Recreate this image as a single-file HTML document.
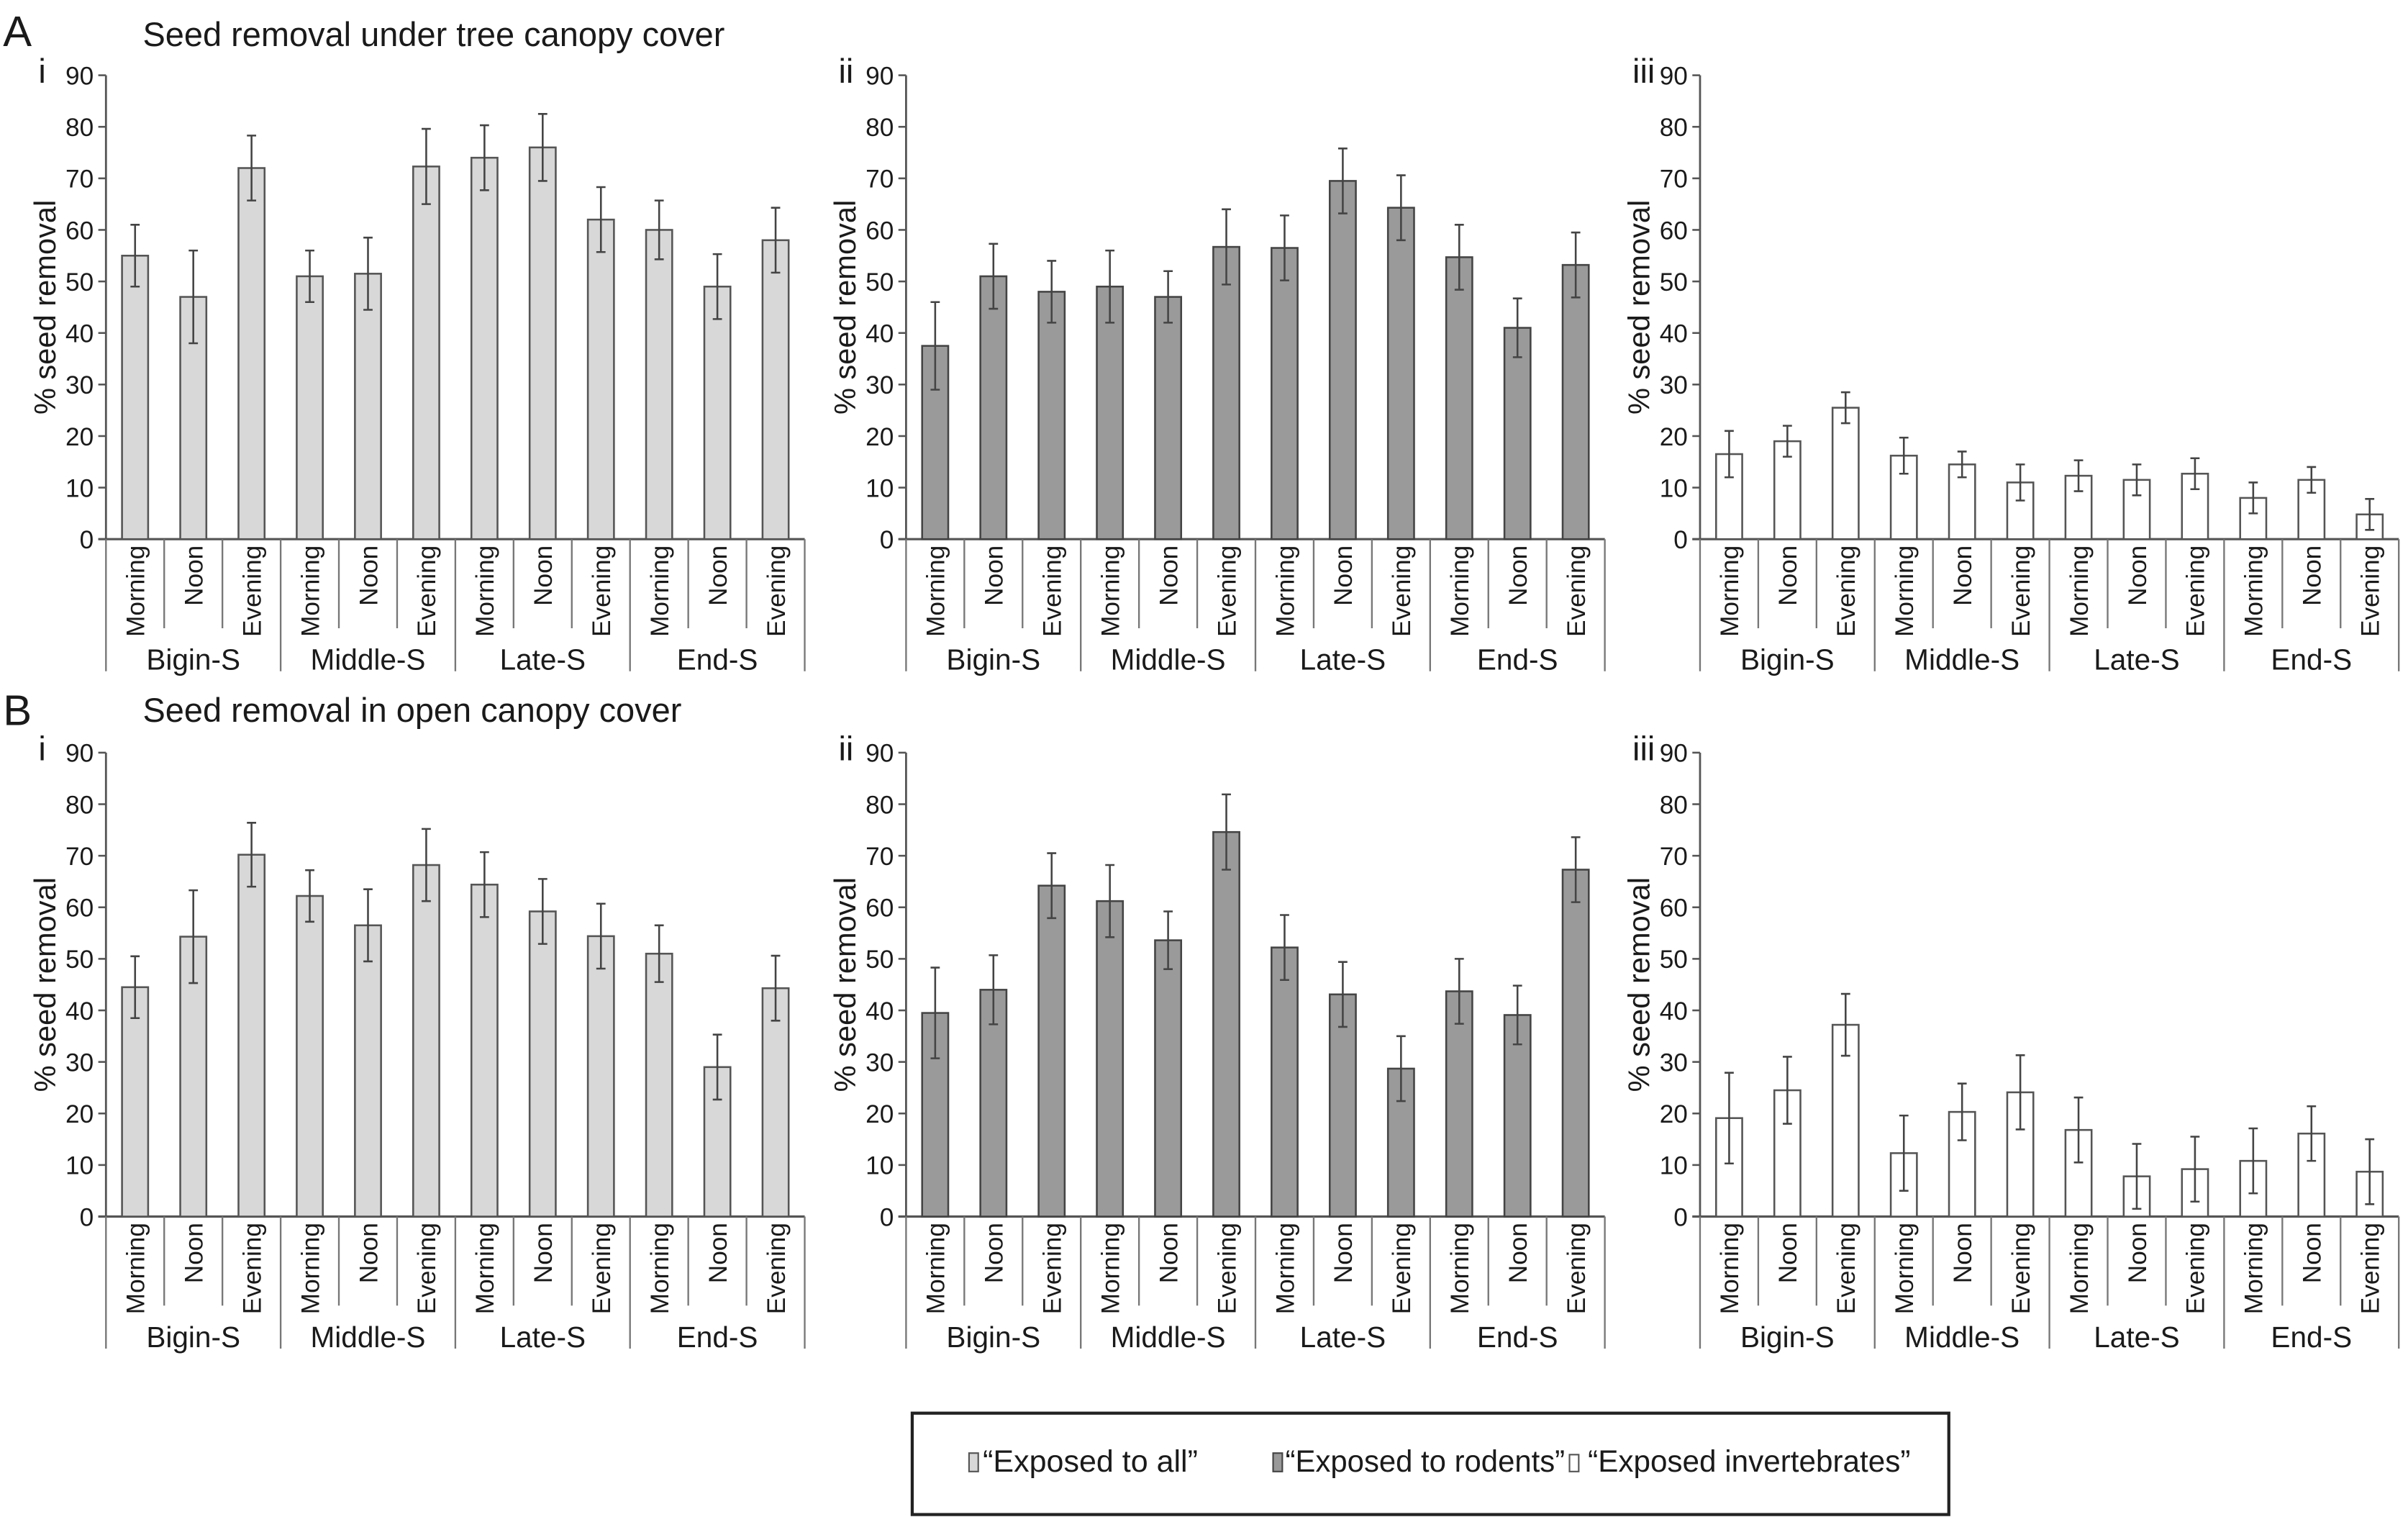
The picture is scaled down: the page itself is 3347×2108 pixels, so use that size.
<!DOCTYPE html>
<html><head><meta charset="utf-8"><style>
html,body{margin:0;padding:0;background:#fff}
svg{display:block}
text{font-family:"Liberation Sans",Arial,sans-serif;fill:#1a1a1a}
</style></head><body>
<svg id="fig" width="3347" height="2108" viewBox="0 0 1568 987.6" preserveAspectRatio="none" xmlns="http://www.w3.org/2000/svg">
<text x="2" y="30" font-size="28">A</text>
<text x="93" y="30" font-size="22">Seed removal under tree canopy cover</text>
<text x="2" y="472" font-size="28">B</text>
<text x="93" y="470" font-size="22">Seed removal in open canopy cover</text>
<g>
<rect x="594" y="920" width="675" height="66" fill="#fff" stroke="#222" stroke-width="2"/>
<rect x="631" y="946" width="6" height="12" fill="#d8d8d8" stroke="#555" stroke-width="1"/>
<text x="640" y="958" font-size="20" textLength="140" lengthAdjust="spacingAndGlyphs">“Exposed to all”</text>
<rect x="829" y="946" width="6" height="12" fill="#999" stroke="#444" stroke-width="1"/>
<text x="837" y="958" font-size="20" textLength="182" lengthAdjust="spacingAndGlyphs">“Exposed to rodents”</text>
<rect x="1022" y="947" width="6" height="11" fill="#fff" stroke="#555" stroke-width="1"/>
<text x="1034" y="958" font-size="20" textLength="210" lengthAdjust="spacingAndGlyphs">“Exposed invertebrates”</text>
</g>
<g id="charts"></g>
</svg>
<script>
const times = ["Morning","Noon","Evening"];
const seasons = ["Bigin-S","Middle-S","Late-S","End-S"];
const yTicks = [0,10,20,30,40,50,60,70,80,90];
const aAllMean = [55,47,72,51,51.5,72.3,74,76,62,60,49,58];
const aAllErr = [6,9,6.3,5,7,7.3,6.3,6.5,6.3,5.7,6.3,6.3];
const aRodMean = [37.5,51,48,49,47,56.7,56.5,69.5,64.3,54.7,41,53.2];
const aRodErr = [8.5,6.3,6,7,5,7.3,6.3,6.3,6.3,6.3,5.7,6.3];
const aInvMean = [16.5,19,25.5,16.2,14.5,11,12.3,11.5,12.7,8,11.5,4.8];
const aInvErr = [4.5,3,3,3.5,2.5,3.5,3,3,3,3,2.5,3];
const bAllMean = [44.5,54.3,70.2,62.2,56.5,68.2,64.4,59.2,54.4,51,29,44.3];
const bAllErr = [6,9,6.2,5,7,7,6.3,6.3,6.3,5.5,6.3,6.3];
const bRodMean = [39.5,44,64.2,61.2,53.6,74.6,52.2,43.1,28.7,43.7,39.1,67.3];
const bRodErr = [8.8,6.7,6.3,7,5.6,7.3,6.3,6.3,6.3,6.3,5.7,6.3];
const bInvMean = [19.1,24.5,37.2,12.3,20.3,24.1,16.8,7.8,9.2,10.8,16.1,8.7];
const bInvErr = [8.8,6.5,6,7.3,5.5,7.2,6.3,6.3,6.3,6.3,5.3,6.3];

const NS="http://www.w3.org/2000/svg";
const root=document.getElementById('charts');
function mk(tag,attrs,parent){const e=document.createElementNS(NS,tag);for(const k in attrs)e.setAttribute(k,attrs[k]);parent.appendChild(e);return e;}

function panel(id,ax,y0,y90,roman,means,errs,fill,stroke){
  const g=mk('g',{},root);
  
  
  const W=455, n=means.length, cw=W/n;
  const yS=v=>y0-(v/90)*(y0-y90);
  const xS=i=>ax+i*cw;
  const r=mk('text',{x:ax-44,y:y90+5,'font-size':22},g);r.textContent=roman;
  
  
  const yt=mk('text',{x:0,y:0,'font-size':19.5,'text-anchor':'middle',transform:`translate(${ax-33},${(y0+y90)/2}) rotate(-90)`},g);
  yt.textContent='% seed removal';
  
  
  const a=mk('line',{x1:ax,y1:y90,x2:ax,y2:y0,stroke:'#555','stroke-width':1.3},g);
  
  
  yTicks.forEach(t=>{
    const tl=mk('line',{x1:ax-5,y1:yS(t),x2:ax,y2:yS(t),stroke:'#555','stroke-width':1.2},g);
    
    
    const tx=mk('text',{x:ax-8,y:yS(t)+6,'font-size':16.5,'text-anchor':'end'},g);tx.textContent=t;
    
    
  });
  const xa=mk('line',{x1:ax-5,y1:y0,x2:ax+W,y2:y0,stroke:'#555','stroke-width':1.5},g);
  
  
  for(let i=0;i<=n;i++){
    const grp=i%3===0;
    const sl=mk('line',{x1:xS(i),y1:y0,x2:xS(i),y2:grp?y0+86:y0+58,stroke:'#777','stroke-width':1.1},g);
    
    
  }
  means.forEach((m,i)=>{
    const cx=xS(i)+cw/2, bw=17;
    const b=mk('rect',{x:cx-bw/2,y:yS(m),width:bw,height:y0-yS(m),fill:fill,stroke:stroke,'stroke-width':1.2},g);
    
    
    const e=errs[i], yt2=yS(m+e), yb=yS(m-e);
    const el=mk('path',{d:`M${cx} ${yt2}V${yb}M${cx-3} ${yt2}H${cx+3}M${cx-3} ${yb}H${cx+3}`,stroke:'#444','stroke-width':1.2,fill:'none'},g);
    
    
    const tl=mk('text',{x:0,y:0,'font-size':16.5,'text-anchor':'end',transform:`translate(${cx+6},${y0+4}) rotate(-90)`},g);
    tl.textContent=times[i%3];
    
    
  });
  seasons.forEach((s,k)=>{
    const t=mk('text',{x:xS(k*3)+cw*1.5,y:y0+85,'font-size':19,'text-anchor':'middle'},g);t.textContent=s;
    
    
  });
}
const light='#d8d8d8', mid='#9a9a9a', white='#ffffff';
panel('chart-a-i',69,351,49,'i',aAllMean,aAllErr,light,'#555');
panel('chart-a-ii',590,351,49,'ii',aRodMean,aRodErr,mid,'#444');
panel('chart-a-iii',1107,351,49,'iii',aInvMean,aInvErr,white,'#555');
panel('chart-b-i',69,792,490,'i',bAllMean,bAllErr,light,'#555');
panel('chart-b-ii',590,792,490,'ii',bRodMean,bRodErr,mid,'#444');
panel('chart-b-iii',1107,792,490,'iii',bInvMean,bInvErr,white,'#555');
</script>
</body></html>
